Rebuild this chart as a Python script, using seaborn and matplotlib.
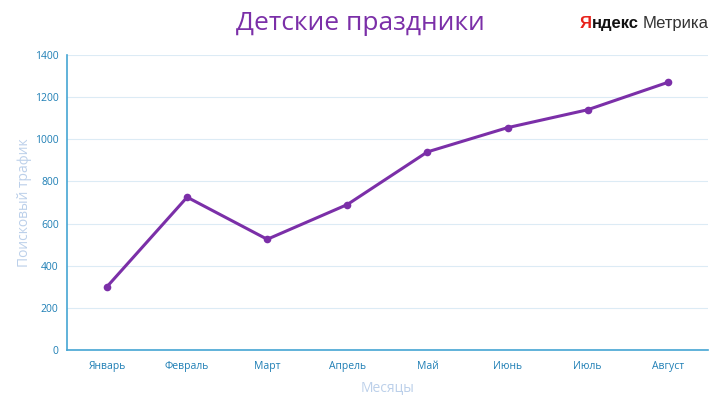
import numpy as np
import pandas as pd
import matplotlib
matplotlib.use("Agg")
import matplotlib.pyplot as plt
import seaborn as sns

months = ["Январь", "Февраль", "Март", "Апрель", "Май", "Июнь", "Июль", "Август"]
traffic = [300, 725, 525, 690, 940, 1055, 1140, 1270]
y_ticks = [0, 200, 400, 600, 800, 1000, 1200, 1400]

title = "Детские праздники"
x_label = "Месяцы"
y_label = "Поисковый трафик"

sns.set_theme(style="white")
plt.rcParams["font.family"] = ["Open Sans", "DejaVu Sans"]

df = pd.DataFrame({"month": months, "traffic": traffic})

fig = plt.figure(figsize=(7.2, 4.2), dpi=100)
ax = fig.add_axes([0.093, 0.167, 0.89, 0.702])

line_color = "#7B2FA8"
tick_color = "#1F7FB5"
label_color = "#BCD0EA"
spine_color = "#45A5D3"

sns.lineplot(data=df, x="month", y="traffic", sort=False, color=line_color,
             linewidth=2.2, marker="o", markersize=5.5, markeredgewidth=0, ax=ax)

ax.set_xlim(-0.5, len(months) - 0.5)
ax.set_ylim(0, 1400)
ax.set_yticks(y_ticks)
ax.yaxis.grid(True, color="#DCEBF5", linewidth=0.8)
ax.set_axisbelow(True)

for side in ["top", "right"]:
    ax.spines[side].set_visible(False)
for side in ["left", "bottom"]:
    ax.spines[side].set_color(spine_color)
    ax.spines[side].set_linewidth(1.2)

ax.tick_params(axis="both", length=0, labelsize=7.5, labelcolor=tick_color, pad=6)
ax.tick_params(axis="x", pad=8)
ax.set_xlabel(x_label, color=label_color, fontsize=10, labelpad=6)
ax.set_ylabel(y_label, color=label_color, fontsize=10, labelpad=2)

fig.text(0.50, 0.945, title, ha="center", va="center", color="#7B2FA8", fontsize=19)

# Yandex Metrika logo, pieces chained one after another
logo_font = "Liberation Sans"
t1 = fig.text(0.805, 0.945, "Я", ha="left", va="center", color="#E8221B",
              fontsize=12, fontweight="bold", family=logo_font)
t2 = fig.text(0, 0, "ндекс", ha="left", va="bottom", color="#111111",
              fontsize=12, fontweight="bold", family=logo_font)
t3 = fig.text(0, 0, "Метрика", ha="left", va="bottom", color="#333333",
              fontsize=12, family=logo_font)
fig.canvas.draw()
r = fig.canvas.get_renderer()
inv = fig.transFigure.inverted()
b1 = t1.get_window_extent(r)
x0, y0 = inv.transform((b1.x1, b1.y0))
t2.set_position((x0, y0))
b2 = t2.get_window_extent(r)
x1, _ = inv.transform((b2.x1 + 4, b2.y0))
t3.set_position((x1, y0))

plt.savefig("out.png", dpi=100)
plt.close()
